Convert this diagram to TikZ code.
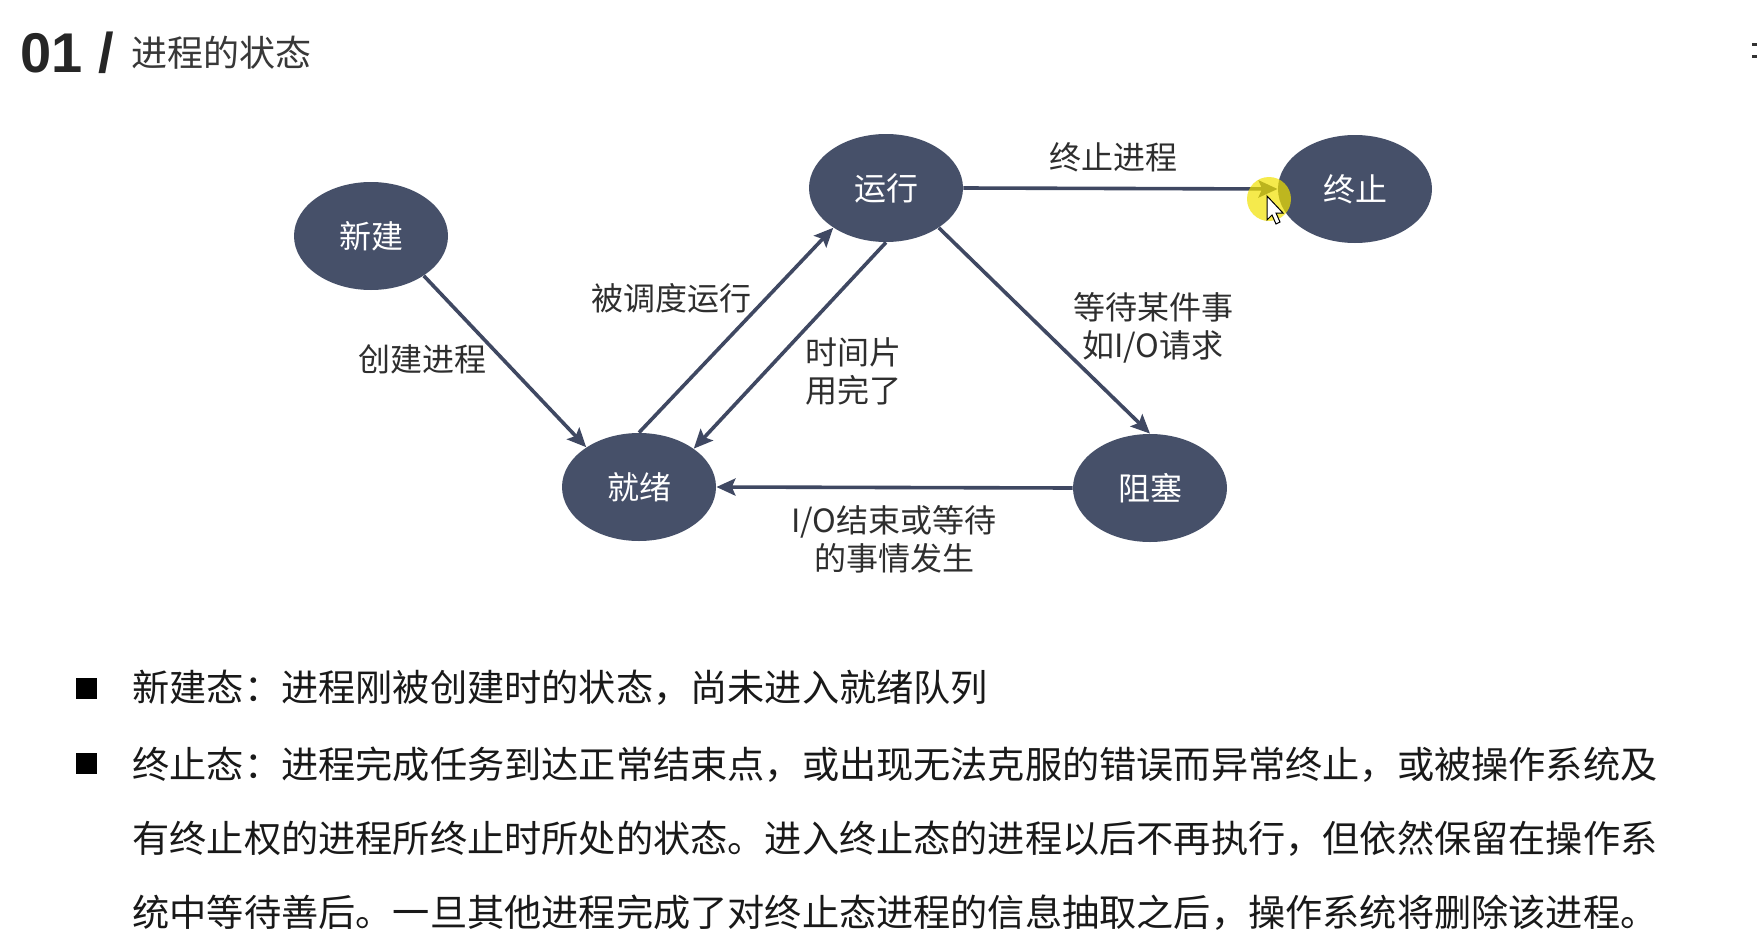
\documentclass[tikz,border=0pt]{standalone}
\usepackage{fontspec}
\setmainfont{Liberation Sans}
\newfontfamily\cjk{Noto Sans CJK SC}
\usetikzlibrary{arrows.meta,shapes.geometric}
\definecolor{slate}{HTML}{465069}
\definecolor{edgecol}{HTML}{3F4862}
\definecolor{labelcol}{HTML}{2E2E2E}
\definecolor{hilite}{HTML}{F2E200}

\tikzset{
  state/.style={ellipse, fill=slate, inner sep=0pt,
    minimum width=77pt, minimum height=54pt,
    text=white, font=\cjk\fontsize{16}{19}\selectfont},
  flow/.style={draw=edgecol, line width=1.8pt,
    -{Stealth[length=9.5pt, width=8.5pt, inset=1.8pt]}},
  edgelabel/.style={text=labelcol, align=center, inner sep=0pt,
    font=\cjk\fontsize{16}{19}\selectfont},
  bodytext/.style={anchor=west, inner sep=0pt, text=black!90,
    font=\cjk\fontsize{18.6}{22}\selectfont},
  bulletmark/.style={fill=black, minimum size=10.5pt, inner sep=0pt}
}

\begin{document}
\begin{tikzpicture}[x=0.5pt, y=-0.5pt]
  \useasboundingbox (0,0) rectangle (1757,937);
  \fill[white] (0,0) rectangle (1757,937);

  % heading
  \node[anchor=west, inner sep=0pt, text=black!85,
        font=\fontsize{28}{28}\selectfont\bfseries] (num) at (20,53) {01 /};
  \node[anchor=west, inner sep=0pt, text=black!78,
        font=\cjk\fontsize{18}{18}\selectfont] (title) at (131,53) {进程的状态};

  % small marks at the right edge
  \fill[black!80] (1752,43) rectangle (1757,46);
  \fill[black!80] (1752,55) rectangle (1757,58);

  % states
  \node[state] (xj) at (371,236)  {新建};
  \node[state] (yx) at (886,188)  {运行};
  \node[state] (zz) at (1355,189) {终止};
  \node[state] (jx) at (639,487)  {就绪};
  \node[state] (zs) at (1150,488) {阻塞};

  % transitions
  \draw[flow] (xj.-37) -- (jx.143);
  \draw[flow] (jx.90)  -- (yx.217);
  \draw[flow] (yx.270) -- (jx.35);
  \draw[flow] (yx.-37) -- (zs.90);
  \draw[flow] (zs.180) -- (jx.0);
  \draw[flow] (yx.0)   -- (zz.180);

  % transition labels
  \node[edgelabel] (l1) at (422,359)  {创建进程};
  \node[edgelabel] (l2) at (671,298)  {被调度运行};
  \node[edgelabel] (l3) at (853,371)  {时间片\\用完了};
  \node[edgelabel] (l4) at (1153,328) {等待某件事\\如I/O请求};
  \node[edgelabel] (l5) at (894,539)  {I/O结束或等待\\的事情发生};
  \node[edgelabel] (l6) at (1113,157) {终止进程};

  % pointer highlight and cursor
  \fill[hilite, opacity=0.7] (1269,199) circle[radius=11pt];
  \filldraw[fill=white, draw=black, line width=0.5pt, line join=miter]
    (1267,196) -- (1267,220) -- (1272,215) -- (1276,224) -- (1280,222)
    -- (1276,213) -- (1283,213) -- cycle;

  % notes
  \node[bulletmark] (b1) at (86,688) {};
  \node[bulletmark] (b2) at (86,763) {};
  \node[bodytext] (t1) at (132,688) {新建态：进程刚被创建时的状态，尚未进入就绪队列};
  \node[bodytext] (t2) at (132,765) {终止态：进程完成任务到达正常结束点，或出现无法克服的错误而异常终止，或被操作系统及};
  \node[bodytext] (t3) at (132,839) {有终止权的进程所终止时所处的状态。进入终止态的进程以后不再执行，但依然保留在操作系};
  \node[bodytext] (t4) at (132,913) {统中等待善后。一旦其他进程完成了对终止态进程的信息抽取之后，操作系统将删除该进程。};
\end{tikzpicture}
\end{document}
